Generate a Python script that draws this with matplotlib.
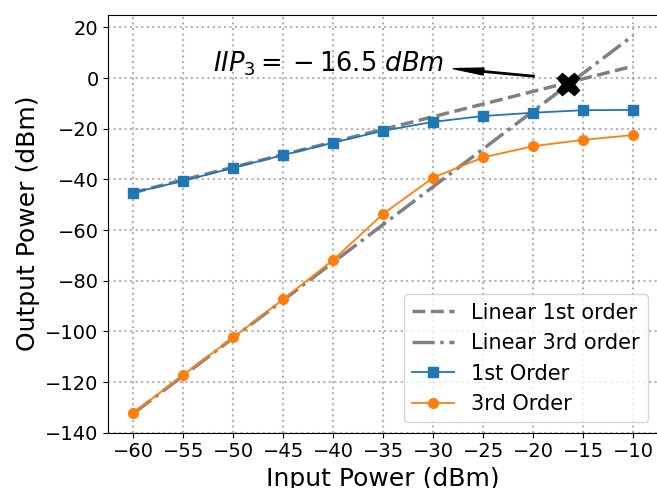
import numpy as np
import matplotlib
matplotlib.use('Agg')
import matplotlib.pyplot as plt

# input power sweep (dBm)
p_in = [-60, -55, -50, -45, -40, -35, -30, -25, -20, -15, -10]
# measured output power of the fundamental and the 3rd order product (dBm)
out_1st = [-45.2, -40.6, -35.4, -30.4, -25.5, -20.8, -17.3, -15.0, -13.7, -12.7, -12.6]
out_3rd = [-132.2, -117.2, -102.4, -87.3, -71.8, -53.6, -39.3, -31.3, -26.9, -24.4, -22.5]

# extrapolated linear fits (slope 1 and slope 3)
lin_x = [-60, -10]
lin_1st = [-45.2, 4.7]
lin_3rd = [-132.4, 16.8]

# intercept point
iip3_in = -16.5
iip3_out = -2.5

fig = plt.figure(figsize=(6.57, 4.88), dpi=100)
ax = fig.add_axes([0.1648, 0.1133, 0.837, 0.8566])

ax.plot(lin_x, lin_1st, '--', color='gray', lw=2.5, label='Linear 1st order')
ax.plot(lin_x, lin_3rd, '-.', color='gray', lw=2.5, label='Linear 3rd order')
ax.plot(p_in, out_1st, 's-', color='tab:blue', lw=1.3, ms=7, label='1st Order')
ax.plot(p_in, out_3rd, 'o-', color='tab:orange', lw=1.3, ms=7, label='3rd Order')
ax.plot(iip3_in, iip3_out, 'X', color='black', ms=16, zorder=5)

# label + arrow pointing back to the text
ax.text(-52.0, 2.4, r'$IIP_3 = {} - 16.5\ dBm$', fontsize=18.5, ha='left', va='baseline')
ax.annotate('', xy=(-28.0, 3.7), xytext=(-19.9, 0.7),
            arrowprops=dict(facecolor='black', edgecolor='black', width=1.0,
                            headwidth=5, headlength=22, shrink=0))

ax.set_xlim(-62.5, -7.5)
ax.set_ylim(-140, 25)
ax.set_xticks(np.arange(-60, -9, 5))
ax.set_yticks(np.arange(-140, 21, 20))
ax.tick_params(labelsize=14)
ax.grid(True, linestyle=':', color='gray', lw=1.5, alpha=0.6)
ax.set_xlabel('Input Power (dBm)', fontsize=18)
ax.set_ylabel('Output Power (dBm)', fontsize=18)
ax.legend(loc='lower right', fontsize=15)

fig.savefig('out.png', dpi=100)
